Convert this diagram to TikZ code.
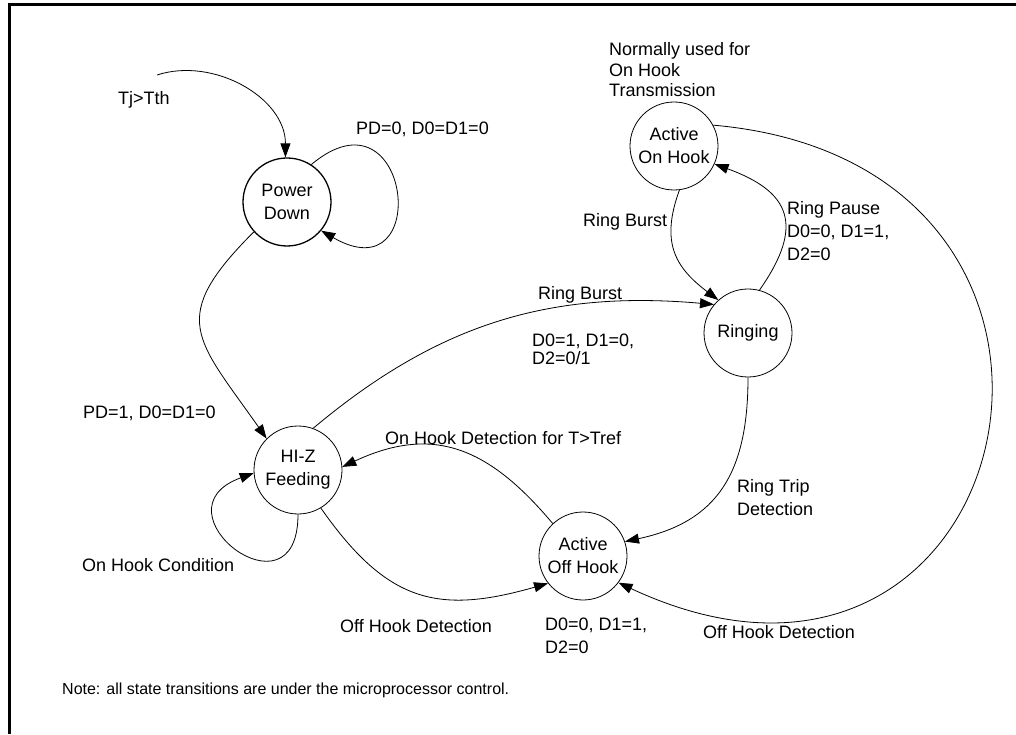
\documentclass[tikz,border=0pt]{standalone}
\usepackage{fontspec}
\setmainfont{Liberation Sans}
\usetikzlibrary{arrows.meta}

\begin{document}
\begin{tikzpicture}[x=1pt,y=1pt,
    font=\fontsize{18}{23}\selectfont,
    state/.style={draw,circle,minimum size=88pt,inner sep=0pt,align=center,line width=0.8pt},
    trans/.style={-{Triangle[length=14pt,width=10pt]},line width=0.8pt},
    lbl/.style={anchor=west,inner sep=0pt,align=left}]
    \useasboundingbox (0,0) rectangle (1016,734);
    % frame
    \draw [line width=2.5pt] (9.3,0) -- (9.3,729.5) -- (1016,729.5);

    % states
    \node [state,line width=1.3pt] (pd) at (287,532) {Power\\Down};
    \node [state] (aon) at (674,588) {Active\\On Hook};
    \node [state] (rng) at (748,401) {Ringing};
    \node [state] (hiz) at (298,264) {HI-Z\\Feeding};
    \node [state] (aoff) at (583,178) {Active\\Off Hook};

    % transitions
    \coordinate (tj) at (157,659);
    \draw [trans] (tj) to[out=18,in=90] (pd.92);
    \draw [trans] (pd.57) .. controls +(40:130) and +(-30:130) .. (pd.-40);
    \draw [trans] (pd.222) .. controls +(225:123) and +(125:123) .. (hiz.135);
    \draw [trans] (hiz.-90) .. controls +(-90:110) and +(200:110) .. (hiz.184);
    \draw [trans] (hiz.70) to[out=40,in=175] (rng.140);
    \draw [trans] (aon.-83) .. controls +(-110:55) and +(143:55) .. (rng.132);
    \draw [trans] (rng.75) .. controls +(55:80) and +(-20:80) .. (aon.-24);
    \draw [trans] (rng.-90) .. controls +(-90:95) and +(12:95) .. (aoff.19);
    \draw [trans] (aoff.133) .. controls +(130:100) and +(25:100) .. (hiz.4);
    \draw [trans] (hiz.-59) .. controls +(-55:115) and +(196:115) .. (aoff.218);
    \draw [trans] (aon.28) .. controls +(-5:448) and +(-25:448) .. (aoff.-37);

    % labels
    \node [lbl] (tjl) at (118,634) {Tj>Tth};
    \node [lbl] (pd0) at (356,605) {PD=0, D0=D1=0};
    \node [lbl] (pd1) at (83,321) {PD=1, D0=D1=0};
    \node [lbl] (onhc) at (82,169) {On Hook Condition};
    \node [lbl] (norm) at (609,664) {Normally used for\\[-2.5pt]On Hook\\[-2.5pt]Transmission};
    \node [lbl] (rb1) at (583,512) {Ring Burst};
    \node [lbl] (rp) at (787,503) {Ring Pause\\D0=0, D1=1,\\D2=0};
    \node [lbl] (rb2) at (538,439) {Ring Burst};
    \node [lbl] (d01) at (532,385) {D0=1, D1=0,\\[-5pt]D2=0/1};
    \node [lbl] (rt) at (737,236) {Ring Trip\\Detection};
    \node [lbl] (ohd1) at (385,296) {On Hook Detection for T>Tref};
    \node [lbl] (ohd2) at (340,108) {Off Hook Detection};
    \node [lbl] (d00) at (545,98) {D0=0, D1=1,\\D2=0};
    \node [lbl] (ohd3) at (703,102) {Off Hook Detection};
    \node [lbl,font=\fontsize{16}{19}\selectfont] (note) at (62,44) {Note: all state transitions are under the microprocessor control.};
\end{tikzpicture}
\end{document}
